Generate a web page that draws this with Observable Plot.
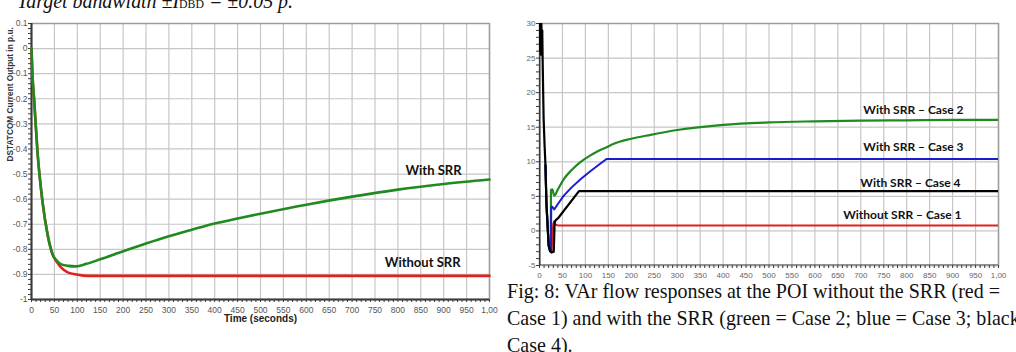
<!DOCTYPE html>
<html><head><meta charset="utf-8">
<script src="https://cdn.jsdelivr.net/npm/d3@7"></script>
<script src="https://cdn.jsdelivr.net/npm/@observablehq/plot@0.6"></script>
<style>
html,body{margin:0;padding:0;background:#fff;}
body{width:1016px;height:352px;overflow:hidden;position:relative;}
#left{position:absolute;left:0;top:0;}
#right{position:absolute;left:497px;top:0;}
.serif{position:absolute;font-family:"Liberation Serif","Times New Roman",serif;color:#111;white-space:nowrap;transform-origin:0 0;font-size:22px;line-height:26.7px;}
#title{left:17px;top:-12.5px;font-style:italic;}
#title sub{font-size:13px;vertical-align:baseline;font-style:normal;}
#caption{left:507px;top:278.2px;}
</style>
</head><body>
<div id="title" class="serif"><span id="titleLine">Target bandwidth ±I<sub>DBD</sub> = ±0.05 p.</span></div>
<div id="left"></div>
<div id="right"></div>
<div id="caption" class="serif">
<div><span id="capLine1">Fig: 8: VAr flow responses at the POI without the SRR (red =</span></div>
<div>Case 1) and with the SRR (green = Case 2; blue = Case 3; black =</div>
<div>Case 4).</div>
</div>
<script>
// ---------- Left chart data (DSTATCOM current output, p.u.) ----------
const leftXTicks = [0,50,100,150,200,250,300,350,400,450,500,550,600,650,700,750,800,850,900,950,1000];
const leftXLabels = ["0","50","100","150","200","250","300","350","400","450","500","550","600","650","700","750","800","850","900","950","1,00"];
const leftYTicks = [0.1,0,-0.1,-0.2,-0.3,-0.4,-0.5,-0.6,-0.7,-0.8,-0.9,-1];
const leftYLabels = ["0.1","0","-0.1","-0.2","-0.3","-0.4","-0.5","-0.6","-0.7","-0.8","-0.9","-1"];

const withSrrTime  = [0,2,6,13,24,35,46,55,65,80,97,120,150,200,250,300,350,400,450,500,600,700,800,900,1000];
const withSrrValue = [0,-0.1,-0.21,-0.41,-0.61,-0.74,-0.82,-0.845,-0.86,-0.866,-0.868,-0.858,-0.84,-0.808,-0.777,-0.748,-0.722,-0.697,-0.677,-0.658,-0.622,-0.59,-0.562,-0.54,-0.522];
const withoutSrrTime  = [0,2,6,13,24,35,46,55,65,79,100,122,1000];
const withoutSrrValue = [0,-0.1,-0.21,-0.41,-0.61,-0.74,-0.82,-0.85,-0.873,-0.892,-0.901,-0.906,-0.906];

// ---------- Right chart data (Reactive power flow at POI, MVAr) ----------
const rightXTicks = leftXTicks;
const rightXLabels = leftXLabels;
const rightYTicks = [30,25,20,15,10,5,0,-5];
const rightYLabels = ["30","25","20","15","10","5","0","-5"];

const case1Time  = [13,15,18,20,23,26,30,32,35,40,1000];
const case1Value = [9.5,4.2,0.3,-2.1,-2.9,-3.1,1.0,1.4,0.9,0.8,0.8];
const case2Time  = [13,15,18,20,23,24.5,25,28,32,40,53,70,89,110,126,146,162,198,242,300,400,500,600,700,800,900,1000];
const case2Value = [9.5,4.2,0.3,-2.1,-2.9,-3.0,5.9,6.0,5.1,6.0,7.5,8.8,9.95,10.9,11.5,12.1,12.6,13.3,13.9,14.6,15.35,15.7,15.85,15.95,16.0,16.05,16.07];
const case3Time  = [13,15,18,20,23,25,25.5,28,32,40,53,70,90,110,130,146,1000];
const case3Value = [9.5,4.2,0.3,-2.1,-2.9,-3.0,3.4,3.5,3.1,3.9,5.1,6.3,7.5,8.6,9.6,10.4,10.4];
const case4Time  = [0,1,2,3,4,5,6,7,9,11,13,15,18,20,23,26,31,33,36,40,86,1000];
const case4Value = [30.5,26,30.5,25.5,30,27,29,24,16.2,12.5,9.5,4.2,0.3,-2.1,-2.9,-3.1,-3.0,1.3,1.6,1.8,5.75,5.75];

const zip = (t, v) => t.map((d, i) => ({t: d, v: v[i]}));
const lxMap = new Map(leftXTicks.map((d, i) => [d, leftXLabels[i]]));
const lyMap = new Map(leftYTicks.map((d, i) => [d, leftYLabels[i]]));
const rxMap = new Map(rightXTicks.map((d, i) => [d, rightXLabels[i]]));
const ryMap = new Map(rightYTicks.map((d, i) => [d, rightYLabels[i]]));

const GRID = "#c6c6c6";
const AXIS = "#3a3a3a";
const labelFont = "Lato, 'Open Sans', sans-serif";

const withSrr = zip(withSrrTime, withSrrValue);
const withoutSrr = zip(withoutSrrTime, withoutSrrValue);

const left = Plot.plot({
  width: 495, height: 352,
  marginLeft: 31, marginRight: 6, marginTop: 23, marginBottom: 53,
  style: {fontFamily: "'Liberation Sans', Arial, sans-serif", fontSize: "8.5px", background: "transparent", overflow: "visible"},
  x: {domain: [0, 1000], label: null},
  y: {domain: [-1, 0.1], label: null},
  marks: [
    Plot.gridX(leftXTicks, {stroke: GRID, strokeOpacity: 1, strokeWidth: 1.2}),
    Plot.gridY(leftYTicks, {stroke: GRID, strokeOpacity: 1, strokeWidth: 1.2}),
    Plot.frame({stroke: "#9c9c9c", strokeWidth: 1.5}),
    Plot.axisX(d3.range(0, 1001, 10), {tickSize: 3, tickFormat: () => "", label: null, stroke: AXIS}),
    Plot.axisY(d3.range(-1, 0.1001, 0.02).map(d => +d.toFixed(2)), {tickSize: 3, tickFormat: () => "", label: null, stroke: AXIS}),
    Plot.axisX(leftXTicks, {tickSize: 0, tickPadding: 7, tickFormat: d => lxMap.get(d), label: null, fill: "#555"}),
    Plot.axisY(leftYTicks, {tickSize: 0, tickPadding: 4, tickFormat: d => lyMap.get(d), label: null, fill: "#555"}),
    Plot.ruleX([0], {stroke: AXIS, strokeWidth: 2}),
    Plot.ruleY([-1], {stroke: AXIS, strokeWidth: 2}),
    Plot.line(withoutSrr, {x: "t", y: "v", stroke: "#e3211c", strokeWidth: 2.6, curve: "monotone-x"}),
    Plot.line(withSrr, {x: "t", y: "v", stroke: "#1f8a1f", strokeWidth: 2.6, curve: "monotone-x"}),
    Plot.text(withSrr, Plot.selectLast({x: "t", y: "v", text: () => "With SRR", textAnchor: "end", dx: -28, dy: -9, fontFamily: labelFont, fontWeight: "bold", fontSize: 13, fill: "#111"})),
    Plot.text(withoutSrr, Plot.selectLast({x: "t", y: "v", text: () => "Without SRR", textAnchor: "end", dx: -29, dy: -13, fontFamily: labelFont, fontWeight: "bold", fontSize: 13, fill: "#111"})),
    Plot.text(["Time (seconds)"], {frameAnchor: "bottom", dy: 22, fontWeight: "bold", fontSize: 10, fill: "#222"}),
    Plot.text(["DSTATCOM Current Output in p.u."], {frameAnchor: "left", dx: -21, rotate: -90, fontWeight: "bold", fontSize: 8.3, fill: "#333"})
  ]
});
document.getElementById("left").append(left);

const case1 = zip(case1Time, case1Value);
const case2 = zip(case2Time, case2Value);
const case3 = zip(case3Time, case3Value);
const case4 = zip(case4Time, case4Value);

const right = Plot.plot({
  width: 519, height: 352,
  marginLeft: 42, marginRight: 18, marginTop: 23, marginBottom: 87,
  style: {fontFamily: "'Liberation Sans', Arial, sans-serif", fontSize: "8px", background: "transparent", overflow: "visible"},
  x: {domain: [0, 1000], label: null},
  y: {domain: [-5, 30], label: null},
  clip: true,
  marks: [
    Plot.gridX(rightXTicks, {stroke: GRID, strokeOpacity: 1, strokeWidth: 1.2}),
    Plot.gridY(rightYTicks, {stroke: GRID, strokeOpacity: 1, strokeWidth: 1.2}),
    Plot.frame({stroke: "#9c9c9c", strokeWidth: 1.5}),
    Plot.axisX(d3.range(0, 1001, 10), {tickSize: 3, tickFormat: () => "", label: null, stroke: AXIS}),
    Plot.axisY(d3.range(-5, 30.01, 1), {tickSize: 3, tickFormat: () => "", label: null, stroke: AXIS}),
    Plot.axisX(rightXTicks, {tickSize: 0, tickPadding: 7, tickFormat: d => rxMap.get(d), label: null, fill: "#666"}),
    Plot.axisY(rightYTicks, {tickSize: 0, tickPadding: 4, tickFormat: d => ryMap.get(d), label: null, fill: "#666"}),
    Plot.ruleX([0], {stroke: AXIS, strokeWidth: 2}),
    Plot.ruleY([-5], {stroke: AXIS, strokeWidth: 2}),
    Plot.line(case1, {x: "t", y: "v", stroke: "#e3211c", strokeWidth: 2}),
    Plot.line(case2, {x: "t", y: "v", stroke: "#1f8a1f", strokeWidth: 2.2, curve: "monotone-x"}),
    Plot.line(case3, {x: "t", y: "v", stroke: "#1c1ccf", strokeWidth: 2}),
    Plot.line(case4, {x: "t", y: "v", stroke: "#000", strokeWidth: 2.2}),
    Plot.text(case2, Plot.selectLast({x: "t", y: "v", text: () => "With SRR – Case 2", textAnchor: "end", dx: -35, dy: -10, fontFamily: labelFont, fontWeight: "bold", fontSize: 12, fill: "#111"})),
    Plot.text(case3, Plot.selectLast({x: "t", y: "v", text: () => "With SRR – Case 3", textAnchor: "end", dx: -35, dy: -12, fontFamily: labelFont, fontWeight: "bold", fontSize: 12, fill: "#111"})),
    Plot.text(case4, Plot.selectLast({x: "t", y: "v", text: () => "With SRR – Case 4", textAnchor: "end", dx: -38, dy: -8, fontFamily: labelFont, fontWeight: "bold", fontSize: 12, fill: "#111"})),
    Plot.text(case1, Plot.selectLast({x: "t", y: "v", text: () => "Without SRR – Case 1", textAnchor: "end", dx: -37, dy: -10, fontFamily: labelFont, fontWeight: "bold", fontSize: 12, fill: "#111"})),
    Plot.text(["Time (seconds)"], {frameAnchor: "bottom", dy: 21, fontWeight: "bold", fontSize: 9, fill: "#333"}),
    Plot.text(["Reactive Power Flow at POI in MVAr"], {frameAnchor: "left", dx: -17, dy: 4, rotate: -90, fontWeight: "bold", fontSize: 8, fill: "#333"})
  ]
});
document.getElementById("right").append(right);

// fit serif texts horizontally to the reference widths
function fit(spanId, boxId, target) {
  const w = document.getElementById(spanId).getBoundingClientRect().width;
  if (w > 0) document.getElementById(boxId).style.transform = `scaleX(${target / w})`;
}
fit("titleLine", "title", 276);
fit("capLine1", "caption", 493);
</script>
</body></html>
